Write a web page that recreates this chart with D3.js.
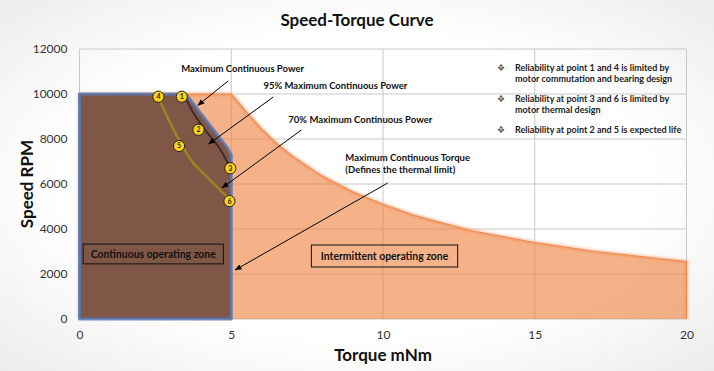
<!DOCTYPE html>
<html>
<head>
<meta charset="utf-8">
<script src="https://cdn.jsdelivr.net/npm/d3@7"></script>
<style>
  html, body { margin: 0; padding: 0; background: #fff; }
  svg { display: block; font-family: Lato, "Open Sans", sans-serif; }
</style>
</head>
<body>
<div id="chart"></div>
<script>
// --- data ---
const xTicks = [0, 5, 10, 15, 20];
const yTicks = [0, 2000, 4000, 6000, 8000, 10000, 12000];

// intermittent operating zone boundary (torque mNm, speed rpm)
const intTorque = [0, 0, 5.0, 5.5, 6, 6.5, 7, 8, 9, 10, 11, 12, 13, 14, 15, 16, 17, 18, 19, 20, 20];
const intSpeed  = [0, 10000, 10000, 9200, 8450, 7800, 7250, 6350, 5650, 5100, 4620, 4250, 3900, 3650, 3400, 3200, 3000, 2850, 2700, 2550, 0];

// continuous operating zone boundary
const contTorque = [0, 0, 3.5, 4.88, 5.0, 5.0];
const contSpeed  = [0, 10000, 10000, 7600, 7300, 0];

// 95% maximum continuous power curve
const p95Torque = [3.4, 3.48, 3.75, 4.14, 4.54, 4.8, 4.97];
const p95Speed  = [9900, 9820, 9160, 8400, 7730, 7160, 6710];

// 70% maximum continuous power curve
const p70Torque = [2.59, 2.99, 3.38, 3.75, 4.21, 4.7, 4.9, 4.94];
const p70Speed  = [9900, 8710, 7730, 6930, 6310, 5640, 5380, 5240];

// numbered operating points
const pointLabels = ['1', '2', '3', '4', '5', '6'];
const pointTorque = [3.37, 3.92, 4.97, 2.60, 3.28, 4.94];
const pointSpeed  = [9880, 8410, 6700, 9880, 7690, 5240];

const notes = [
  ['Reliability at point 1 and 4 is limited by', 'motor commutation and bearing design'],
  ['Reliability at point 3 and 6 is limited by', 'motor thermal design'],
  ['Reliability at point 2 and 5 is expected life']
];

const W = 714, H = 371;
const x = d3.scaleLinear().domain([0, 20]).range([79.5, 686.5]);
const y = d3.scaleLinear().domain([0, 12000]).range([319, 49]);

const svg = d3.select('#chart').append('svg')
  .attr('width', W).attr('height', H);

const defs = svg.append('defs');
const bg = defs.append('radialGradient').attr('id', 'bg')
  .attr('cx', '50%').attr('cy', '50%').attr('r', '75%');
bg.append('stop').attr('offset', '55%').attr('stop-color', '#ffffff');
bg.append('stop').attr('offset', '100%').attr('stop-color', '#e9e9e9');
defs.append('filter').attr('id', 'soft')
  .attr('x', '-5%').attr('y', '-5%').attr('width', '110%').attr('height', '110%')
  .append('feGaussianBlur').attr('stdDeviation', 1.2);
defs.append('marker').attr('id', 'arrow')
  .attr('viewBox', '0 0 10 10').attr('refX', 9).attr('refY', 5)
  .attr('markerWidth', 7).attr('markerHeight', 7).attr('orient', 'auto')
  .append('path').attr('d', 'M0,1 L10,5 L0,9 z').attr('fill', '#000');

svg.append('rect').attr('width', W).attr('height', H).attr('fill', 'url(#bg)');

// title
svg.append('text').attr('x', 357).attr('y', 26).attr('text-anchor', 'middle')
  .attr('font-size', 17).attr('font-weight', 'bold').attr('fill', '#111')
  .text('Speed-Torque Curve');

// gridlines
svg.append('g').selectAll('line').data(yTicks).join('line')
  .attr('x1', x(0)).attr('x2', x(20))
  .attr('y1', d => y(d)).attr('y2', d => y(d))
  .attr('stroke', '#c8c8c8').attr('stroke-width', 1);
svg.append('g').selectAll('line').data(xTicks).join('line')
  .attr('x1', d => x(d)).attr('x2', d => x(d))
  .attr('y1', y(0)).attr('y2', y(12000))
  .attr('stroke', '#c8c8c8').attr('stroke-width', 1);

// axes (labels only)
const yAxis = svg.append('g').attr('transform', `translate(${x(0) - 12},0)`)
  .call(d3.axisLeft(y).tickValues(yTicks).tickSize(0).tickPadding(0).tickFormat(d3.format('d')));
const xAxis = svg.append('g').attr('transform', `translate(0,${y(0) + 11})`)
  .call(d3.axisBottom(x).tickValues(xTicks).tickSize(0).tickPadding(0));
[yAxis, xAxis].forEach(a => {
  a.select('.domain').remove();
  a.selectAll('text').attr('font-size', 12).attr('fill', '#333')
    .attr('font-family', 'Lato, sans-serif');
});
xAxis.selectAll('text').attr('dy', '0.71em');

// axis titles
svg.append('text').attr('x', 383).attr('y', 361).attr('text-anchor', 'middle')
  .attr('font-size', 17).attr('font-weight', 'bold').attr('fill', '#111')
  .text('Torque mNm');
svg.append('text').attr('transform', `translate(33,${y(6000)}) rotate(-90)`)
  .attr('text-anchor', 'middle').attr('font-size', 17).attr('font-weight', 'bold')
  .attr('fill', '#111').text('Speed RPM');

const line = d3.line().x(d => x(d[0])).y(d => y(d[1]));

// intermittent zone
const intPts = intTorque.map((t, i) => [t, intSpeed[i]]);
svg.append('path').datum(intPts).attr('d', line)
  .attr('fill', 'none').attr('stroke', '#f7b898').attr('stroke-width', 4)
  .attr('filter', 'url(#soft)').attr('opacity', 0.7);
svg.append('path').datum(intPts).attr('d', line)
  .attr('fill', '#ee7f3a').attr('fill-opacity', 0.6)
  .attr('stroke', '#ef8d55').attr('stroke-width', 1.2);

// continuous zone
const contPts = contTorque.map((t, i) => [t, contSpeed[i]]);
svg.append('path').datum(contPts)
  .attr('d', d => line(d) + 'Z')
  .attr('fill', '#6f4a3e').attr('fill-opacity', 0.88)
  .attr('stroke', '#5878b4').attr('stroke-width', 3).attr('stroke-opacity', 0.85)
  .attr('stroke-linejoin', 'round');

// power curves
const curve = d3.line().x(d => x(d[0])).y(d => y(d[1])).curve(d3.curveCatmullRom);
svg.append('path').datum(p70Torque.map((t, i) => [t, p70Speed[i]])).attr('d', curve)
  .attr('fill', 'none').attr('stroke', '#a08220').attr('stroke-width', 2.5);
svg.append('path').datum(p95Torque.map((t, i) => [t, p95Speed[i]])).attr('d', curve)
  .attr('fill', 'none').attr('stroke', '#3e2c2c').attr('stroke-width', 2);

// annotations (torque, speed positions)
const annText = [
  { t: 'Maximum Continuous Power', x: 3.35, y: 11110 },
  { t: '95% Maximum Continuous Power', x: 6.06, y: 10350 },
  { t: '70% Maximum Continuous Power', x: 6.88, y: 8840 },
  { t: 'Maximum Continuous Torque', x: 8.76, y: 7150 },
  { t: '(Defines the thermal limit)', x: 8.76, y: 6620 }
];
svg.append('g').selectAll('text').data(annText).join('text')
  .attr('x', d => x(d.x)).attr('y', d => y(d.y)).attr('dy', '0.35em')
  .attr('font-size', 9.5).attr('font-weight', 'bold').attr('fill', '#111')
  .text(d => d.t);

const arrows = [
  [4.90, 10580, 3.90, 9500],
  [6.39, 9870, 4.26, 7780],
  [7.31, 8400, 4.70, 5830],
  [10.15, 6040, 5.13, 2180]
];
svg.append('g').selectAll('line').data(arrows).join('line')
  .attr('x1', d => x(d[0])).attr('y1', d => y(d[1]))
  .attr('x2', d => x(d[2])).attr('y2', d => y(d[3]))
  .attr('stroke', '#000').attr('stroke-width', 1)
  .attr('marker-end', 'url(#arrow)');

// zone boxes
const boxes = [
  { t: 'Continuous operating zone', x0: 0.12, x1: 4.74, y0: 3330, y1: 2450 },
  { t: 'Intermittent operating zone', x0: 7.64, x1: 12.46, y0: 3290, y1: 2310 }
];
const bx = svg.append('g').selectAll('g').data(boxes).join('g');
bx.append('rect')
  .attr('x', d => x(d.x0)).attr('y', d => y(d.y0))
  .attr('width', d => x(d.x1) - x(d.x0)).attr('height', d => y(d.y1) - y(d.y0))
  .attr('fill', 'none').attr('stroke', '#111').attr('stroke-width', 1);
bx.append('text')
  .attr('x', d => (x(d.x0) + x(d.x1)) / 2).attr('y', d => (y(d.y0) + y(d.y1)) / 2)
  .attr('dy', '0.35em').attr('text-anchor', 'middle')
  .attr('font-size', 10.4).attr('font-weight', 'bold').attr('fill', '#111')
  .text(d => d.t);

// numbered points
const pts = svg.append('g').selectAll('g')
  .data(pointLabels.map((l, i) => ({ l, t: pointTorque[i], s: pointSpeed[i] })))
  .join('g').attr('transform', d => `translate(${x(d.t)},${y(d.s)})`);
pts.append('circle').attr('r', 5.6)
  .attr('fill', '#ffd21a').attr('stroke', '#222').attr('stroke-width', 1);
pts.append('text').attr('text-anchor', 'middle').attr('dy', '0.35em')
  .attr('font-size', 7).attr('font-weight', 'bold').attr('fill', '#222')
  .text(d => d.l);

// reliability notes
const noteY = [68, 99, 130];
notes.forEach((lines, i) => {
  svg.append('text').attr('x', 501).attr('y', noteY[i]).attr('dy', '0.35em')
    .attr('text-anchor', 'middle').attr('font-size', 9).attr('fill', '#555')
    .text('\u2756');
  lines.forEach((ln, j) => {
    svg.append('text').attr('x', 515).attr('y', noteY[i] + j * 11).attr('dy', '0.35em')
      .attr('font-size', 9).attr('font-weight', 'bold').attr('fill', '#222')
      .text(ln);
  });
});
</script>
</body>
</html>
